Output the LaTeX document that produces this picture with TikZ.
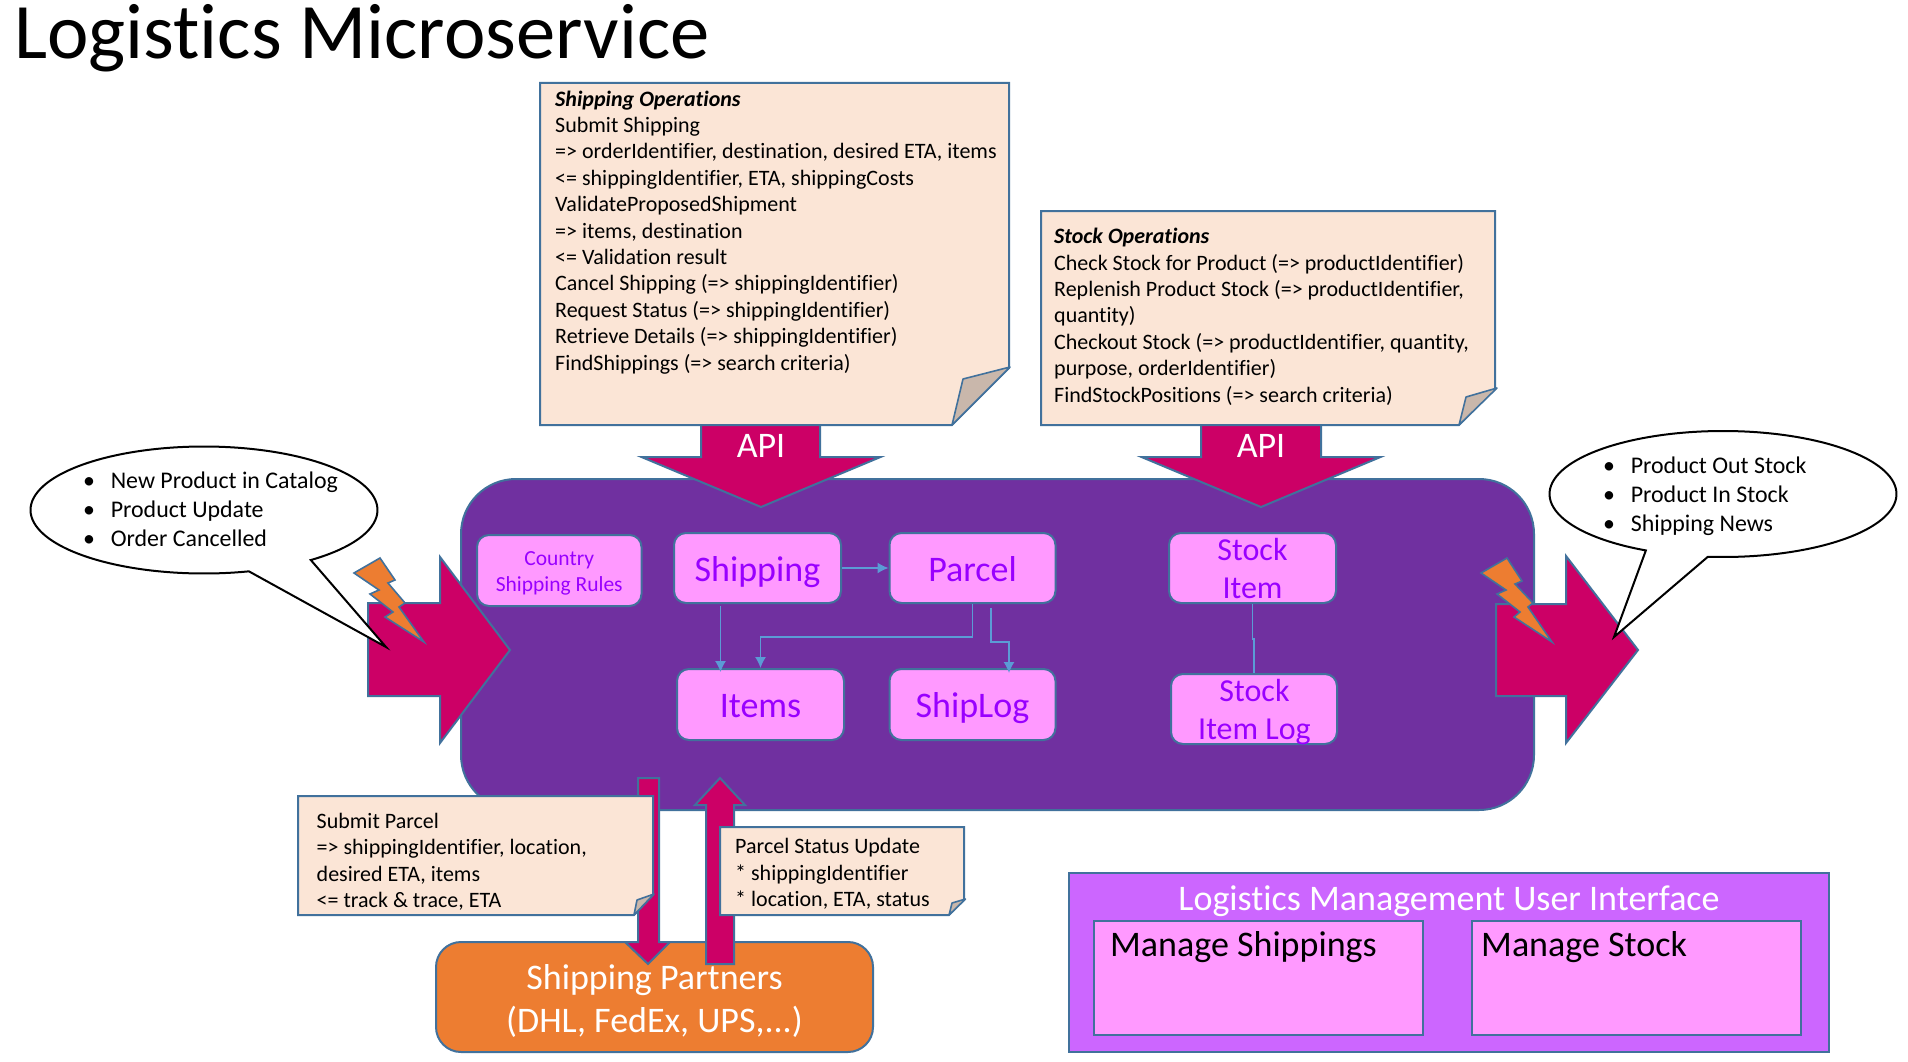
\documentclass[tikz,border=0pt]{standalone}
\usepackage{fontspec}
\setmainfont[Ligatures=NoCommon]{Carlito}
\usetikzlibrary{arrows.meta,calc}
\definecolor{edgeblue}{HTML}{41719C}
\definecolor{mainpurple}{HTML}{7030A0}
\definecolor{magentaarrow}{HTML}{CC0066}
\definecolor{notefill}{HTML}{FBE5D6}
\definecolor{foldfill}{HTML}{C9B7AB}
\definecolor{boxpink}{HTML}{FF99FF}
\definecolor{boxtext}{HTML}{9900FF}
\definecolor{partnerorange}{HTML}{ED7D31}
\definecolor{panelviolet}{HTML}{CC66FF}
\definecolor{linkblue}{HTML}{5B9BD5}
\newcommand{\fsize}[2]{\fontsize{#1}{#2}\selectfont}
\newcommand{\bul}{\makebox[27.6pt][l]{•}}
\newcommand{\lift}[1]{\rule{0pt}{#1pt}}
\tikzset{
  outline/.style={draw=edgeblue,line width=2pt,line join=miter},
  bigarrow/.style={outline,fill=magentaarrow},
  notebody/.style={outline,fill=notefill},
  notefold/.style={draw=edgeblue,line width=1.6pt,fill=foldfill,line join=round},
  bolt/.style={draw=edgeblue,line width=1.6pt,fill=partnerorange,line join=miter},
  notetext/.style={inner sep=0pt,anchor=base west,align=left,font=\fsize{22}{26.4},text=black},
  bullettext/.style={inner sep=0pt,anchor=base west,align=left,font=\fsize{23.9}{29},text=black},
  pinkbase/.style={draw=edgeblue,line width=2pt,fill=boxpink,rounded corners=12pt,inner sep=0pt,align=center,text=boxtext},
  pinkbox/.style={pinkbase,font=\fsize{36}{38},text height=34pt,text depth=8pt},
  stockbox/.style={pinkbase,font=\fsize{32}{38}},
  stocktext/.style={inner sep=0pt,anchor=base,align=center,text=boxtext,font=\fsize{32}{38}},
  smallpink/.style={pinkbase,font=\fsize{21.5}{26}},
  apitext/.style={inner sep=0pt,anchor=base,text=white,font=\fsize{36}{40}},
  link/.style={draw=linkblue,line width=1.4pt},
  linkarrow/.style={link,-{Latex[length=11pt,width=11pt]}},
  speech/.style={draw=black,line width=2pt,fill=white,line join=miter},
  panelbox/.style={outline,inner sep=0pt},
  paneltext/.style={inner sep=0pt,anchor=base west,text=black,font=\fsize{36}{40}}
}
\begin{document}
\begin{tikzpicture}[x=1pt,y=-1pt]
\useasboundingbox (0,0) rectangle (1908,1062);
\fill[white] (0,0) rectangle (1908,1062);
% title
\node[inner sep=0pt,anchor=base west,font=\fsize{78.6}{90}] (title) at (14,59) {Logistics Microservice};
% main body
\node[outline,fill=mainpurple,rounded corners=55pt,minimum width=1073pt,minimum height=331pt,inner sep=0pt] (service) at (997.5,644.5) {};
% API arrows
\draw[bigarrow] (701,420) -- (701,457) -- (641.5,457) -- (761,507) -- (880.5,457) -- (820,457) -- (820,420) -- cycle;
\draw[bigarrow] (1201,420) -- (1201,457) -- (1141.5,457) -- (1261,507) -- (1380.5,457) -- (1321,457) -- (1321,420) -- cycle;
\node[apitext] (api1) at (761,457) {API};
\node[apitext] (api2) at (1261,457) {API};
% shipping operations note
\draw[notebody] (540,83) -- (1009,83) -- (1009,368) -- (952,425) -- (540,425) -- cycle;
\draw[notefold] (1010,367) -- (963,379) -- (952,425) -- cycle;
\node[notetext] (shipops) at (555,370) {\textbf{\textit{Shipping Operations}}\\Submit Shipping\\=> orderIdentifier, destination, desired ETA, items\\<= shippingIdentifier, ETA, shippingCosts\\ValidateProposedShipment\\=> items, destination\\<= Validation result\\Cancel Shipping (=> shippingIdentifier)\\Request Status (=> shippingIdentifier)\\Retrieve Details (=> shippingIdentifier)\\FindShippings (=> search criteria)};
% stock operations note
\draw[notebody] (1041,211) -- (1495,211) -- (1495,389) -- (1459,425) -- (1041,425) -- cycle;
\draw[notefold] (1497,388) -- (1466,397) -- (1459,425) -- cycle;
\node[notetext] (stockops) at (1054,402) {\textbf{\textit{Stock Operations}}\\Check Stock for Product (=> productIdentifier)\\Replenish Product Stock (=> productIdentifier,\\quantity)\\Checkout Stock (=> productIdentifier, quantity,\\purpose, orderIdentifier)\\FindStockPositions (=> search criteria)};
% domain boxes
\node[smallpink,minimum width=164.5pt,minimum height=71pt] (country) at (559.25,570.5) {\lift{20}Country\\Shipping Rules};
\node[pinkbox,minimum width=167pt,minimum height=70pt] (shipping) at (757.5,568) {Shipping};
\node[pinkbox,minimum width=166pt,minimum height=70pt] (parcel) at (972.5,568) {Parcel};
\node[stockbox,minimum width=167pt,minimum height=70pt] (stockitem) at (1252.5,568) {\lift{24}Stock\\Item};
\node[pinkbox,minimum width=167pt,minimum height=71pt] (items) at (760.5,704.5) {Items};
\node[pinkbox,minimum width=166pt,minimum height=71pt] (shiplog) at (972.5,704.5) {ShipLog};
\node[stockbox,minimum width=166pt,minimum height=70pt] (itemlog) at (1254,709) {};
\node[stocktext] (itemlogtext) at (1254.5,739) {Stock\\Item Log};
% links
\draw[linkarrow] (shipping.east) -- (parcel.west);
\draw[linkarrow] ([xshift=-37pt,yshift=-2pt]shipping.south) -- ([xshift=-40pt,yshift=-4pt]items.north);
\draw[linkarrow] (parcel.south) -- ++(0,33) -| (items.north);
\draw[linkarrow] ([xshift=18.5pt,yshift=-4pt]parcel.south) -- ++(0,34) -| ([xshift=36.5pt,yshift=-5pt]shiplog.north);
\draw[link] (stockitem.south) -- ++(0,35) -| (itemlog.north);
% left event arrow
\draw[bigarrow] (368,603) -- (440,603) -- (440,557) -- (510,650) -- (440,743) -- (440,696) -- (368,696) -- cycle;
\draw[bolt] (354,573) -- (380,558) -- (395,580) -- (388,583) -- (405,603) -- (399,607) -- (424,642) -- (385,617) -- (393,612) -- (370,594) -- (379,590) -- cycle;
% right event arrow
\draw[bigarrow] (1496,604) -- (1566,604) -- (1566,556) -- (1638,650) -- (1566,743) -- (1566,696) -- (1496,696) -- cycle;
\draw[bolt] (1481,573) -- (1507,558) -- (1522,581) -- (1515,584) -- (1533,603) -- (1528,607) -- (1552,642) -- (1514,617) -- (1520,612) -- (1497,594) -- (1506,590) -- cycle;
% left speech bubble
\coordinate (intailtip) at (386,647);
\draw[speech] plot[domain=75:412,samples=120,smooth] ({204+173.5*cos(\x)},{510+63.5*sin(\x)}) -- (intailtip) -- cycle;
\node[bullettext] (inlist) at (83,546) {\bul New Product in Catalog\\\bul Product Update\\\bul Order Cancelled};
% right speech bubble
\coordinate (outtailtip) at (1614,637);
\draw[speech] plot[domain=116.4:455,samples=120,smooth] ({1723+173.5*cos(\x)},{494+63*sin(\x)}) -- (outtailtip) -- cycle;
\node[bullettext] (outlist) at (1603,531) {\bul Product Out Stock\\\bul Product In Stock\\\bul Shipping News};
% shipping partners
\node[outline,fill=partnerorange,rounded corners=25pt,minimum width=437pt,minimum height=110pt,inner sep=0pt,align=center,text=white,font=\fsize{36}{43}] (partners) at (654.5,997) {\lift{32}Shipping Partners\\(DHL, FedEx, UPS,...)};
% parcel arrows
\draw[bigarrow] (638,778) -- (659,778) -- (659,942) -- (670,942) -- (648,964) -- (625,942) -- (638,942) -- cycle;
\draw[bigarrow] (706,964) -- (734,964) -- (734,805) -- (745,805) -- (720,778) -- (695,805) -- (706,805) -- cycle;
% submit parcel note
\draw[notebody] (298,796) -- (653,796) -- (653,895) -- (634,915) -- (298,915) -- cycle;
\draw[notefold] (654,894) -- (637,900) -- (634,915) -- cycle;
\node[notetext] (submitparcel) at (316.5,907.5) {Submit Parcel\\=> shippingIdentifier, location,\\desired ETA, items\\<= track \& trace, ETA};
% parcel status note
\draw[notebody] (720,827) -- (964,827) -- (964,900) -- (949,915) -- (720,915) -- cycle;
\draw[notefold] (965.5,899) -- (952,903) -- (949,915) -- cycle;
\node[notetext] (parcelstatus) at (735,906.5) {Parcel Status Update\\* shippingIdentifier\\* location, ETA, status};
% management UI
\node[panelbox,fill=panelviolet,minimum width=760pt,minimum height=179pt] (ui) at (1449,962.5) {};
\node[inner sep=0pt,anchor=base,text=white,font=\fsize{36}{40}] (uititle) at (1449,910) {Logistics Management User Interface};
\node[panelbox,fill=boxpink,minimum width=329pt,minimum height=114pt] (mgship) at (1258.5,978) {};
\node[panelbox,fill=boxpink,minimum width=329pt,minimum height=114pt] (mgstock) at (1636.5,978) {};
\node[paneltext] (mgshiptext) at (1110,956) {Manage Shippings};
\node[paneltext] (mgstocktext) at (1481,956) {Manage Stock};
\end{tikzpicture}
\end{document}
